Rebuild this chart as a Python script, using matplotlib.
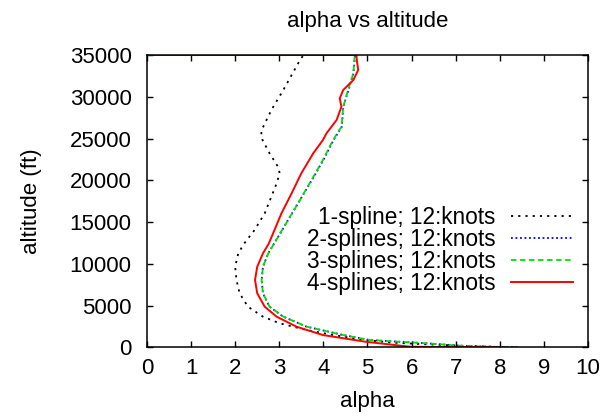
import matplotlib
matplotlib.use('Agg')
import matplotlib.pyplot as plt
import numpy as np

plt.rcParams['font.family'] = ['Liberation Sans', 'DejaVu Sans']

# Curves (alpha vs altitude in ft)
alt_1 = [0, 190, 360, 550, 870, 1470, 2070, 2870, 3670, 4860, 6470, 8060, 9650,
         11250, 12400, 14050, 16050, 18030, 19640, 20840, 21630, 23230, 24820,
         25400, 26020, 28410, 30800, 32600, 34400, 35000, 35000]
alpha_1 = [8.3, 7.1, 6.34, 5.58, 4.95, 4.22, 3.62, 3.01, 2.63, 2.29, 2.10, 2.03, 2.0,
           2.07, 2.2, 2.44, 2.67, 2.82, 2.94, 3.01, 2.97, 2.78, 2.62,
           2.59, 2.60, 2.82, 3.09, 3.28, 3.47, 3.55, 0]

alt_2 = [0, 60, 190, 480, 870, 1470, 2470, 3670, 4860, 6470, 8060, 9650, 11250,
         12400, 15240, 17640, 20030, 22430, 24820, 26420, 28810, 30810, 32810,
         35000, 35000]
alpha_2 = [8.4, 7.8, 7.1, 6.34, 5.05, 4.45, 3.62, 3.09, 2.78, 2.63, 2.60, 2.63, 2.75,
           2.88, 3.20, 3.47, 3.74, 4.0, 4.23, 4.42, 4.45, 4.57, 4.68,
           4.72, 0]

alt_3 = alt_2
alpha_3 = [8.4, 7.8, 7.1, 6.34, 5.05, 4.45, 3.62, 3.09, 2.78, 2.63, 2.60, 2.63, 2.75,
           2.88, 3.20, 3.47, 3.73, 3.99, 4.22, 4.41, 4.45, 4.56, 4.68,
           4.71, 0]

alt_4 = [0, 20, 70, 670, 1470, 2470, 3670, 4860, 6470, 8060, 9650, 11250, 12400,
         13650, 16050, 18440, 20840, 23230, 24820, 25620, 27220, 28810, 29810,
         30810, 32010, 33210, 34300, 35000, 35000]
alpha_4 = [8.0, 7.0, 5.96, 4.95, 3.99, 3.39, 2.94, 2.67, 2.50, 2.45, 2.50, 2.63, 2.76,
           2.86, 3.05, 3.28, 3.50, 3.77, 3.99, 4.07, 4.30, 4.41, 4.37,
           4.45, 4.68, 4.79, 4.76, 4.75, 0]

labels = ['1-spline; 12:knots', '2-splines; 12:knots',
          '3-splines; 12:knots', '4-splines; 12:knots']

fig = plt.figure(figsize=(6.16, 4.19), dpi=100)
ax = fig.add_axes([0.2386, 0.1711, 0.7159, 0.6976])

ax.plot(alpha_1, alt_1, color='black', lw=1.3, ls=(0, (1.2, 2.8)), label=labels[0])
ax.plot(alpha_2, alt_2, color='#0000ff', lw=1.3, ls=(0, (1, 1.5)), label=labels[1])
ax.plot(alpha_3, alt_3, color='#00e000', lw=1.3, ls=(0, (3, 2)), label=labels[2])
ax.plot(alpha_4, alt_4, color='#ff0000', lw=1.4, label=labels[3])

ax.set_xlim(0, 10)
ax.set_ylim(0, 35000)
ax.set_xticks(np.arange(0, 11, 1))
ax.set_yticks(np.arange(0, 35001, 5000))
ax.tick_params(direction='in', top=True, right=True, length=4.5, width=1,
               labelsize=16)
ax.tick_params(axis='x', pad=8)
ax.tick_params(axis='y', pad=11)
for s in ax.spines.values():
    s.set_linewidth(1.1)

ax.set_title('alpha vs altitude', fontsize=16, pad=20)
ax.set_xlabel('alpha', fontsize=16, labelpad=8)
ax.set_ylabel('altitude (ft)', fontsize=16, labelpad=20)

ax.legend(loc='upper right', bbox_to_anchor=(0.966, 0.483), frameon=False,
          markerfirst=False, fontsize=16.3, borderpad=0, borderaxespad=0,
          handlelength=2.75, handletextpad=0.68, labelspacing=-0.05)

fig.savefig('out.png', dpi=100)
